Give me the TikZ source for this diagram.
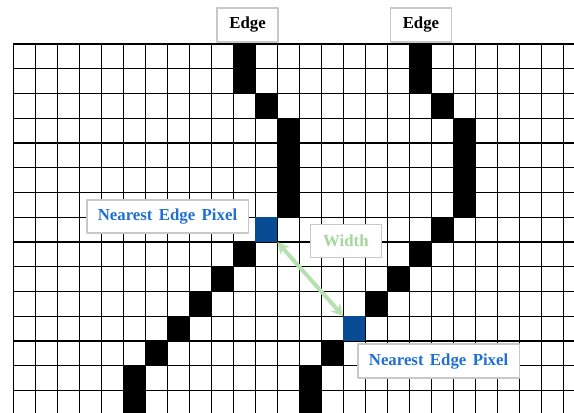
\documentclass[tikz,border=0pt]{standalone}
\usepackage{fontspec}
\setmainfont{Liberation Serif}
\usetikzlibrary{arrows.meta}
\definecolor{pixblue}{RGB}{8,76,150}
\definecolor{labblue}{RGB}{32,112,212}
\definecolor{labgreen}{RGB}{165,214,155}
\definecolor{arrgreen}{RGB}{182,224,176}
\definecolor{boxgray}{RGB}{200,200,200}
\newcommand\labfont{\fontsize{12.6}{15}\selectfont\bfseries}
\newcommand\wsp{\hspace{0.38em}}
\tikzset{
  labelbox/.style={draw=boxgray, line width=1pt, fill=white, inner sep=0pt,
    font=\labfont},
  edgepix/.style={fill=pixblue, minimum width=16.5pt, minimum height=18.5625pt,
    inner sep=0pt, outer sep=0pt}
}
\begin{document}
\begin{tikzpicture}[x=16.5pt, y=-18.5625pt, line join=round]
\useasboundingbox (-0.6045,-1.7778) rectangle (25.4864,14.8687);
\clip (-0.6045,-1.7778) rectangle (25.4864,14.8687);
% edge pixels
\foreach \c/\r in {10/0,10/1,11/2,12/3,12/4,12/5,12/6,10/8,9/9,8/10,7/11,6/12,5/13,5/14,
    18/0,18/1,19/2,20/3,20/4,20/5,20/6,19/7,18/8,17/9,16/10,14/12,13/13,13/14}
  \fill (\c,\r) rectangle ++(1,1);
% grid
\foreach \c in {0,...,25} \draw[line width=1pt] (\c,0)--(\c,15);
\foreach \r in {0,...,14} \draw[line width=1pt] (0,\r)--(26,\r);
\node[edgepix] (near1) at (11.5,7.5) {};
\node[edgepix] (near2) at (15.5,11.5) {};
\draw[arrgreen, line width=3pt, {Stealth[length=9pt,width=9pt]}-{Stealth[length=9pt,width=9pt]}]
  (near1.south east) -- (near2.north west);
% labels
\node[labelbox, minimum width=45.75pt, minimum height=25.5pt] (edge1) at (10.65,-0.77) {Edge};
\node[labelbox, minimum width=45.75pt, minimum height=25.5pt] (edge2) at (18.53,-0.77) {Edge};
\node[labelbox, text=labblue, minimum width=121pt, minimum height=24.75pt] (nearlab1) at (7.01,6.97) {Nearest\wsp Edge\wsp Pixel};
\node[labelbox, text=labgreen, minimum width=53pt, minimum height=24.5pt] (widthlab) at (15.12,7.96) {Width};
\node[labelbox, text=labblue, minimum width=121pt, minimum height=25.5pt] (nearlab2) at (19.33,12.81) {Nearest\wsp Edge\wsp Pixel};
\end{tikzpicture}
\end{document}
